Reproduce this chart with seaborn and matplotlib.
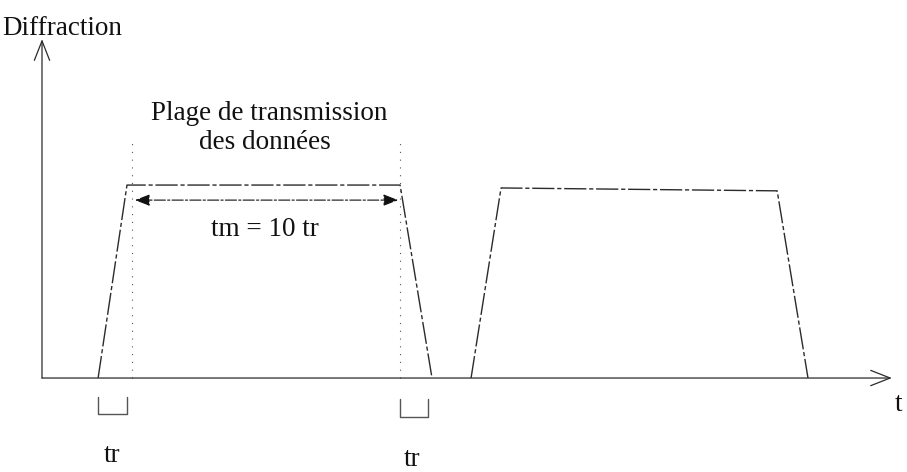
import numpy as np
import pandas as pd
import matplotlib
matplotlib.use("Agg")
import matplotlib.pyplot as plt
import seaborn as sns

# temps exprime en unites de tr, amplitude de diffraction normalisee
impulsion_1_t = [2.04, 3.09, 13.02, 14.18]
impulsion_1_amp = [0.0, 1.0, 1.0, 0.0]
impulsion_2_t = [15.6, 16.69, 26.73, 27.85]
impulsion_2_amp = [0.0, 0.985, 0.97, 0.0]

axe_t_max = 30.9
axe_amp_max = 1.756

plage_debut = 3.27
plage_fin = 13.02
plage_haut = 1.25
fleche_tm = (3.38, 12.95)
fleche_tm_amp = 0.922

titre_y = "Diffraction"
titre_x = "t"
texte_plage = ["Plage de transmission", "des données"]
texte_tm = "tm = 10 tr"
texte_tr = "tr"

df = pd.DataFrame({
    "t": impulsion_1_t + impulsion_2_t,
    "amp": impulsion_1_amp + impulsion_2_amp,
    "impulsion": ["1"] * 4 + ["2"] * 4,
})

sns.set_style("white")
plt.rcParams["font.family"] = ["Liberation Serif", "DejaVu Serif"]

fig = plt.figure(figsize=(9.07, 4.72), dpi=100)
ax = fig.add_axes([0, 0, 1, 1])
ax.set_xlim(-1.527, 31.45)
ax.set_ylim(-0.487, 1.959)
ax.axis("off")

trait = "#2b2b2b"
tirets = (0, (16, 2, 3, 2))

# axes avec fleches ouvertes
ax.annotate("", xy=(axe_t_max, 0), xytext=(0, 0),
            arrowprops=dict(arrowstyle="->,head_length=1.4,head_width=0.55",
                            color=trait, lw=0.9, linestyle="-", shrinkA=0, shrinkB=0))
ax.annotate("", xy=(0, axe_amp_max), xytext=(0, 0),
            arrowprops=dict(arrowstyle="->,head_length=1.4,head_width=0.55",
                            color=trait, lw=0.9, shrinkA=0, shrinkB=0))

# impulsions trapezoidales
sns.lineplot(data=df, x="t", y="amp", units="impulsion", estimator=None,
             sort=False, color=trait, lw=1.0, ax=ax, legend=False)
for line in ax.get_lines():
    line.set_linestyle(tirets)

# limites de la plage de transmission (pointilles)
for xv in [plage_debut, plage_fin]:
    ax.plot([xv, xv], [0, plage_haut], color="#555555", lw=0.8, linestyle=(0, (1, 6)))

# double fleche tm
ax.annotate("", xy=(fleche_tm[1], fleche_tm_amp), xytext=(fleche_tm[0], fleche_tm_amp),
            arrowprops=dict(arrowstyle="<|-|>,head_length=0.9,head_width=0.35",
                            color="#111111", lw=0.8, linestyle=(0, (10, 2, 2, 2)),
                            shrinkA=0, shrinkB=0))

# crochets tr sous le front montant et le front descendant
crochets = [
    (impulsion_1_t[0], impulsion_1_t[1], -0.098, -0.187),
    (impulsion_1_t[2], impulsion_1_t[3] - 0.15, -0.11, -0.20),
]
for x0, x1, yh, yb in crochets:
    ax.plot([x0, x0, x1, x1], [yh, yb, yb, yh], color="#555555", lw=1.0)

# textes
fs = 19.5
ax.text(-1.45, 1.78, titre_y, fontsize=fs, ha="left", va="baseline", color="#111111")
ax.text(31.0, -0.135, titre_x, fontsize=fs, ha="left", va="center", color="#111111")
ax.text(8.25, 1.337, texte_plage[0], fontsize=fs, ha="center", va="baseline", color="#111111")
ax.text(8.1, 1.187, texte_plage[1], fontsize=fs, ha="center", va="baseline", color="#111111")
ax.text(8.11, 0.736, texte_tm, fontsize=fs, ha="center", va="baseline", color="#111111")
ax.text(2.55, -0.404, texte_tr, fontsize=fs, ha="center", va="center", color="#111111")
ax.text(13.45, -0.42, texte_tr, fontsize=fs, ha="center", va="center", color="#111111")

fig.savefig("out.png", dpi=100, facecolor="white")
